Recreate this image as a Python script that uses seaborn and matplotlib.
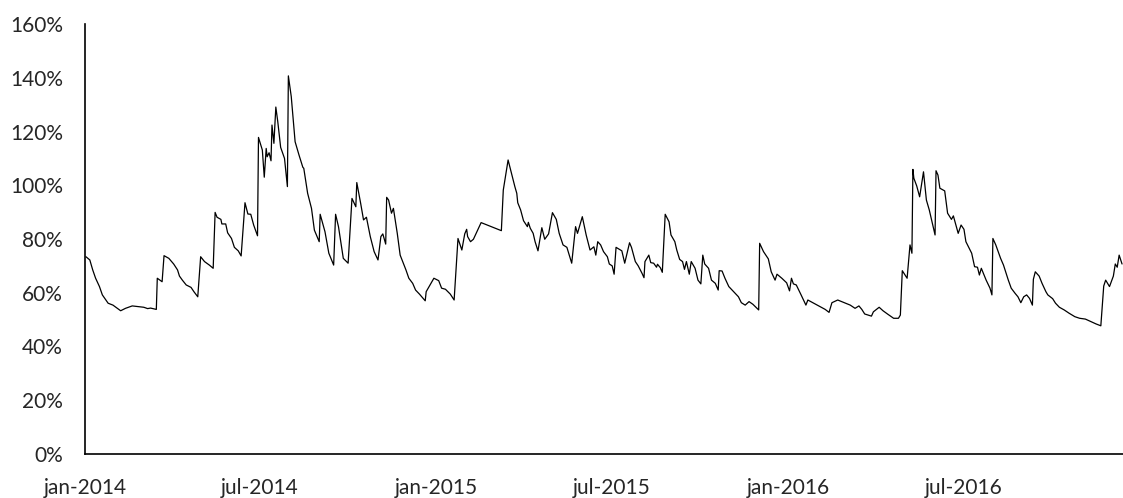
import pandas as pd
import matplotlib.pyplot as plt
from matplotlib.ticker import FuncFormatter, MultipleLocator
import seaborn as sns

# values (percent)
dates = [
    "2014-01-02", "2014-01-06", "2014-01-09", "2014-01-12", "2014-01-16", "2014-01-19",
    "2014-01-25", "2014-01-30", "2014-02-07", "2014-02-12", "2014-02-19", "2014-03-03",
    "2014-03-07", "2014-03-10", "2014-03-16", "2014-03-17", "2014-03-22", "2014-03-24",
    "2014-03-29", "2014-04-03", "2014-04-07", "2014-04-09", "2014-04-12", "2014-04-16",
    "2014-04-21", "2014-04-24", "2014-04-28", "2014-05-01", "2014-05-05", "2014-05-10",
    "2014-05-14", "2014-05-16", "2014-05-18", "2014-05-22", "2014-05-23", "2014-05-27",
    "2014-05-29", "2014-06-02", "2014-06-05", "2014-06-09", "2014-06-12", "2014-06-16",
    "2014-06-19", "2014-06-22", "2014-06-25", "2014-06-29", "2014-06-30", "2014-07-04",
    "2014-07-06", "2014-07-08", "2014-07-09", "2014-07-11", "2014-07-13", "2014-07-14",
    "2014-07-16", "2014-07-18", "2014-07-20", "2014-07-23", "2014-07-27", "2014-07-30",
    "2014-07-31", "2014-08-03", "2014-08-07", "2014-08-11", "2014-08-15", "2014-08-16",
    "2014-08-20", "2014-08-24", "2014-08-27", "2014-09-01", "2014-09-02", "2014-09-07",
    "2014-09-11", "2014-09-16", "2014-09-18", "2014-09-21", "2014-09-26", "2014-10-01",
    "2014-10-05", "2014-10-09", "2014-10-10", "2014-10-14", "2014-10-17", "2014-10-20",
    "2014-10-24", "2014-10-28", "2014-11-01", "2014-11-04", "2014-11-06", "2014-11-09",
    "2014-11-10", "2014-11-12", "2014-11-15", "2014-11-17", "2014-11-21", "2014-11-24",
    "2014-11-30", "2014-12-03", "2014-12-07", "2014-12-10", "2014-12-14", "2014-12-20",
    "2014-12-21", "2014-12-29", "2015-01-03", "2015-01-06", "2015-01-10", "2015-01-15",
    "2015-01-19", "2015-01-23", "2015-01-27", "2015-01-30", "2015-02-01", "2015-02-02",
    "2015-02-05", "2015-02-08", "2015-02-16", "2015-03-09", "2015-03-11", "2015-03-16",
    "2015-03-20", "2015-03-23", "2015-03-25", "2015-03-26", "2015-03-29", "2015-04-01",
    "2015-04-05", "2015-04-06", "2015-04-08", "2015-04-11", "2015-04-13", "2015-04-16",
    "2015-04-20", "2015-04-23", "2015-04-27", "2015-05-01", "2015-05-05", "2015-05-08",
    "2015-05-12", "2015-05-16", "2015-05-21", "2015-05-25", "2015-05-27", "2015-06-01",
    "2015-06-05", "2015-06-09", "2015-06-13", "2015-06-15", "2015-06-17", "2015-06-20",
    "2015-06-23", "2015-06-27", "2015-06-29", "2015-07-02", "2015-07-04", "2015-07-06",
    "2015-07-12", "2015-07-15", "2015-07-20", "2015-07-22", "2015-07-26", "2015-07-29",
    "2015-08-02", "2015-08-04", "2015-08-05", "2015-08-09", "2015-08-11", "2015-08-14",
    "2015-08-17", "2015-08-18", "2015-08-21", "2015-08-23", "2015-08-26", "2015-08-30",
    "2015-09-01", "2015-09-05", "2015-09-07", "2015-09-10", "2015-09-13", "2015-09-15",
    "2015-09-17", "2015-09-18", "2015-09-20", "2015-09-22", "2015-09-26", "2015-09-29",
    "2015-10-02", "2015-10-04", "2015-10-06", "2015-10-10", "2015-10-13", "2015-10-17",
    "2015-10-20", "2015-10-21", "2015-10-24", "2015-10-27", "2015-10-31", "2015-11-05",
    "2015-11-10", "2015-11-13", "2015-11-17", "2015-11-21", "2015-11-25", "2015-12-01",
    "2015-12-02", "2015-12-06", "2015-12-11", "2015-12-14", "2015-12-18", "2015-12-20",
    "2015-12-25", "2015-12-30", "2016-01-02", "2016-01-04", "2016-01-06", "2016-01-09",
    "2016-01-14", "2016-01-19", "2016-01-21", "2016-02-04", "2016-02-08", "2016-02-12",
    "2016-02-15", "2016-02-21", "2016-02-28", "2016-03-05", "2016-03-10", "2016-03-14",
    "2016-03-17", "2016-03-20", "2016-03-27", "2016-03-29", "2016-04-04", "2016-04-08",
    "2016-04-13", "2016-04-19", "2016-04-24", "2016-04-26", "2016-04-28", "2016-05-03",
    "2016-05-06", "2016-05-08", "2016-05-09", "2016-05-10", "2016-05-13", "2016-05-16",
    "2016-05-20", "2016-05-23", "2016-05-26", "2016-06-01", "2016-06-02", "2016-06-04",
    "2016-06-06", "2016-06-11", "2016-06-14", "2016-06-18", "2016-06-20", "2016-06-25",
    "2016-06-28", "2016-07-01", "2016-07-03", "2016-07-09", "2016-07-12", "2016-07-15",
    "2016-07-17", "2016-07-19", "2016-07-24", "2016-07-28", "2016-07-30", "2016-07-31",
    "2016-08-03", "2016-08-08", "2016-08-11", "2016-08-16", "2016-08-19", "2016-08-23",
    "2016-08-26", "2016-08-29", "2016-09-01", "2016-09-04", "2016-09-07", "2016-09-10",
    "2016-09-11", "2016-09-13", "2016-09-17", "2016-09-20", "2016-09-24", "2016-09-26",
    "2016-10-01", "2016-10-04", "2016-10-08", "2016-10-13", "2016-10-18", "2016-10-24",
    "2016-10-29", "2016-11-04", "2016-11-10", "2016-11-15", "2016-11-20", "2016-11-23",
    "2016-11-25", "2016-11-27", "2016-11-29", "2016-12-03", "2016-12-05", "2016-12-07",
    "2016-12-09", "2016-12-12",
]

volatility = [
    73.4, 72.2, 68.5, 65.4, 62.3, 59.2, 56.1, 55.4, 53.3, 54.2, 55.1, 54.6,
    54.1, 54.3, 53.8, 65.4, 64.1, 73.8, 72.8, 70.7, 68.5, 66.2, 64.7, 62.9,
    62.0, 60.4, 58.5, 73.4, 71.6, 70.3, 69.1, 89.9, 88.1, 87.3, 85.6, 85.6,
    82.3, 80.2, 76.9, 75.6, 73.7, 93.5, 89.3, 89.2, 85.2, 81.2, 117.8, 113.1,
    103.0, 113.7, 110.6, 112.1, 109.1, 122.4, 115.6, 129.1, 123.7, 114.1, 110.0, 99.5,
    140.7, 133.0, 116.2, 111.3, 106.7, 106.3, 97.0, 91.4, 83.3, 79.0, 89.2, 82.7,
    74.7, 70.3, 89.2, 84.6, 72.8, 71.0, 95.1, 92.0, 101.0, 93.3, 87.1, 88.1,
    80.9, 75.3, 72.2, 80.9, 81.9, 78.1, 95.5, 94.5, 89.6, 91.4, 82.1, 74.0,
    68.5, 65.4, 63.5, 61.0, 59.5, 57.0, 60.4, 65.4, 64.5, 61.7, 61.3, 59.5,
    57.3, 80.2, 75.9, 81.9, 83.6, 80.9, 79.0, 79.9, 86.1, 83.1, 98.2, 109.4,
    103.8, 99.5, 97.0, 93.5, 90.8, 86.8, 84.6, 86.2, 84.0, 82.1, 79.0, 75.6,
    84.2, 79.9, 81.9, 89.8, 87.3, 82.1, 77.8, 76.9, 71.0, 84.6, 82.1, 88.3,
    81.5, 75.9, 77.1, 74.0, 79.0, 77.8, 75.3, 73.4, 70.7, 70.0, 66.9, 76.9,
    75.6, 71.0, 78.6, 76.9, 71.6, 70.0, 67.2, 65.6, 71.6, 74.0, 71.2, 71.0,
    69.5, 70.6, 69.3, 67.6, 89.2, 86.4, 81.5, 79.0, 75.9, 72.4, 71.6, 68.7,
    71.6, 70.0, 66.9, 71.6, 69.1, 64.7, 63.3, 74.0, 70.7, 69.1, 64.7, 63.5,
    61.0, 68.2, 68.1, 65.4, 62.3, 60.4, 58.5, 56.3, 55.4, 56.7, 55.7, 53.6,
    78.4, 75.3, 72.6, 67.8, 64.7, 66.9, 65.4, 63.7, 60.7, 65.4, 63.3, 62.9,
    59.2, 55.4, 57.3, 54.6, 53.8, 52.7, 56.3, 57.3, 56.3, 55.4, 54.2, 55.1,
    53.8, 52.1, 51.3, 52.9, 54.6, 53.3, 52.0, 50.5, 50.5, 51.7, 68.2, 65.4,
    77.8, 74.7, 105.9, 102.6, 99.7, 95.7, 105.0, 94.5, 90.8, 81.5, 105.4, 103.8,
    98.9, 97.9, 89.6, 87.3, 88.6, 82.1, 85.2, 83.6, 79.0, 74.7, 69.7, 69.5,
    66.6, 69.1, 64.7, 61.7, 59.2, 80.2, 77.8, 72.8, 70.3, 64.7, 61.7, 59.8,
    58.5, 56.3, 58.5, 59.2, 57.9, 55.4, 65.0, 67.8, 66.2, 63.5, 60.4, 59.2,
    57.8, 56.1, 54.6, 53.6, 52.4, 51.1, 50.5, 50.2, 49.2, 48.4, 47.7, 62.5,
    64.7, 63.5, 62.3, 66.2, 70.7, 69.5, 74.0, 70.7,
]

tick_dates = ["2014-01-01", "2014-07-01", "2015-01-01", "2015-07-01", "2016-01-01", "2016-07-01"]
tick_labels = ["jan-2014", "jul-2014", "jan-2015", "jul-2015", "jan-2016", "jul-2016"]

df = pd.DataFrame({"date": pd.to_datetime(dates), "vol": volatility})

sns.set_style("white")
plt.rcParams["font.family"] = ["Lato", "DejaVu Sans"]

fig = plt.figure(figsize=(11.23, 4.98), dpi=100)
ax = fig.add_axes([85 / 1123, 44 / 498, 1 - 85 / 1123, 430 / 498])

sns.lineplot(data=df, x="date", y="vol", color="black", linewidth=0.9, ax=ax)

ax.set_xlim(pd.Timestamp("2014-01-01"), pd.Timestamp("2016-12-13"))
ax.set_ylim(0, 160)
ax.yaxis.set_major_locator(MultipleLocator(20))
ax.yaxis.set_major_formatter(FuncFormatter(lambda v, p: f"{v:.0f}%"))
ax.set_xticks(pd.to_datetime(tick_dates))
ax.set_xticklabels(tick_labels)

ax.tick_params(axis="y", length=0, pad=16, labelsize=15)
ax.tick_params(axis="x", length=0, pad=17, labelsize=15)
ax.set_xlabel("")
ax.set_ylabel("")

for side in ["top", "right"]:
    ax.spines[side].set_visible(False)
for side in ["left", "bottom"]:
    ax.spines[side].set_color("black")
    ax.spines[side].set_linewidth(1.2)

plt.savefig("out.png", dpi=100)
plt.close()
